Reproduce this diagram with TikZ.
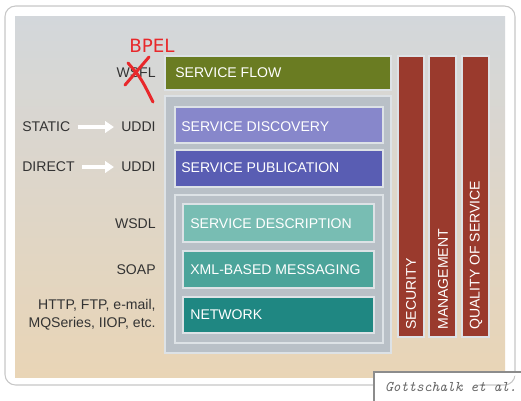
\documentclass[tikz,border=0pt]{standalone}
\usepackage{fontspec}
\setmainfont{Liberation Sans}
\newfontfamily\bpelfont{DejaVu Sans}
\usetikzlibrary{arrows.meta}

\definecolor{bgtop}{HTML}{D3D7DB}
\definecolor{bgbot}{HTML}{E9D5B6}
\definecolor{panel}{HTML}{B9C0C7}
\definecolor{edgeline}{HTML}{DDE2E6}
\definecolor{flowgreen}{HTML}{6A7C22}
\definecolor{brick}{HTML}{9A3A2D}
\definecolor{discov}{HTML}{8787CB}
\definecolor{publ}{HTML}{595DB3}
\definecolor{descr}{HTML}{78BDB3}
\definecolor{xmlmsg}{HTML}{4BA49A}
\definecolor{netw}{HTML}{1F8782}
\definecolor{labeltxt}{HTML}{333333}
\definecolor{bpelred}{HTML}{E8282B}

\tikzset{
  layer/.style={draw=edgeline, line width=0.8pt},
  boxtext/.style={anchor=west, text=white, inner sep=0pt, font=\fontsize{8}{9.6}\selectfont},
  lbl/.style={text=labeltxt, inner sep=0pt, font=\fontsize{8}{10.2}\selectfont},
  barlbl/.style={rotate=90, anchor=west, text=white, inner sep=0pt, font=\fontsize{8}{9.6}\selectfont},
  whitearrow/.style={-{Triangle[length=5pt,width=6.5pt]}, white, line width=2pt, shorten <=4pt, shorten >=4pt}
}

\begin{document}
\begin{tikzpicture}[x=0.02cm, y=-0.02cm]
  \useasboundingbox (0,0) rectangle (521,400);

  \draw[draw=black!22, line width=0.6pt, rounded corners=6pt, fill=white] (5,6) rectangle (515,385);
  \shade[top color=bgtop, bottom color=bgbot] (15,16) rectangle (505,377);

  \draw[layer, fill=flowgreen] (165,56) rectangle (391,90);
  \node[boxtext] (flow) at (175,73) {SERVICE FLOW};

  \draw[layer, fill=panel] (165,96) rectangle (391,353);

  \draw[layer, fill=discov] (175,107) rectangle (383,143);
  \node[boxtext] (discovery) at (181,127) {SERVICE DISCOVERY};

  \draw[layer, fill=publ] (175,150) rectangle (383,187);
  \node[boxtext] (publication) at (181,168) {SERVICE PUBLICATION};

  \draw[layer, fill=panel] (175,195) rectangle (383,343);

  \draw[layer, fill=descr] (183,204) rectangle (374,242);
  \node[boxtext] (description) at (190,224) {SERVICE DESCRIPTION};

  \draw[layer, fill=xmlmsg] (183,251) rectangle (374,288);
  \node[boxtext] (messaging) at (190,270) {XML-BASED MESSAGING};

  \draw[layer, fill=netw] (183,297) rectangle (374,333);
  \node[boxtext] (network) at (190,315) {NETWORK};

  \draw[layer, fill=brick] (398,56) rectangle (424,337);
  \draw[layer, fill=brick] (429,56) rectangle (456,337);
  \draw[layer, fill=brick] (462,56) rectangle (489,337);
  \node[barlbl] (security) at (411,330) {SECURITY};
  \node[barlbl] (management) at (443,330) {MANAGEMENT};
  \node[barlbl] (qos) at (476,330) {QUALITY OF SERVICE};

  \node[lbl, anchor=east] (wsfl) at (156,73) {WSFL};
  \node[lbl, anchor=west] (static) at (22,127) {STATIC};
  \node[lbl, anchor=east] (uddiA) at (156,127) {UDDI};
  \node[lbl, anchor=west] (direct) at (22,167) {DIRECT};
  \node[lbl, anchor=east] (uddiB) at (156,167) {UDDI};
  \node[lbl, anchor=east] (wsdl) at (156,224) {WSDL};
  \node[lbl, anchor=east] (soap) at (156,270) {SOAP};
  \node[lbl, anchor=east, align=right] (transport) at (156,315) {HTTP, FTP, e-mail,\\MQSeries, IIOP, etc.};

  \draw[whitearrow] (static) -- (uddiA);
  \draw[whitearrow] (direct) -- (uddiB);

  \node[text=bpelred, font=\bpelfont\fontsize{10.4}{12}\selectfont] (bpel) at (152,46) {BPEL};
  \draw[bpelred, line width=1.7pt, line cap=round] (125,85) -- (149,57);
  \draw[bpelred, line width=1.7pt, line cap=round] (128,63) .. controls (141,78) .. (153,102);

  \draw[draw=black!45, line width=0.6pt, fill=white] (374,410) -- (374,372) -- (530,372);
  \node[text=black!60, font=\ttfamily\itshape\fontsize{8.4}{10}\selectfont] (cite) at (451,387) {Gottschalk et al.};
\end{tikzpicture}
\end{document}
